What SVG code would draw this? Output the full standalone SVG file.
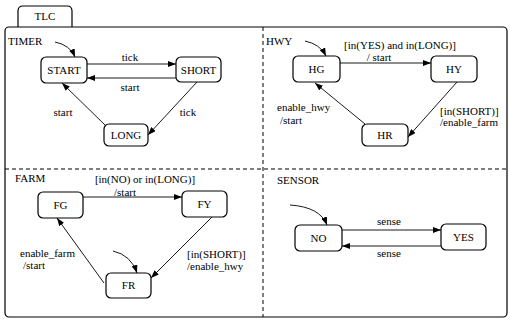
<svg xmlns="http://www.w3.org/2000/svg" width="510" height="320" viewBox="0 0 510 320" font-family="'Liberation Serif', 'DejaVu Serif', serif">
<defs>
<marker id="ah" markerUnits="userSpaceOnUse" markerWidth="8" markerHeight="6" refX="8" refY="3" orient="auto">
<path d="M0,0 L8,3 L0,6 z" fill="#000"/>
</marker>
<style>
.st{fill:#fff;stroke:#000;stroke-width:1.2}
text{font-family:'Liberation Serif','DejaVu Serif',serif;font-size:11px;fill:#000}
.m{text-anchor:middle}
.c{fill:none;stroke:#000;stroke-width:0.9;marker-end:url(#ah)}
.d{fill:none;stroke:#000;stroke-width:1;stroke-dasharray:4 3}
</style>
</defs>
<rect width="510" height="320" fill="#fff"/>
<g id="tlc">
<path d="M18,27 V11 Q18,6 23,6 H67 Q72,6 72,11 V27" fill="none" stroke="#000" stroke-width="1.2"/>
<text class="m" x="45" y="20">TLC</text>
<rect x="5" y="27" width="502" height="290" rx="4" fill="none" stroke="#000" stroke-width="1.2"/>
<line class="d" x1="263" y1="27" x2="263" y2="317"/>
<line class="d" x1="5" y1="169" x2="507" y2="169"/>
<text x="8" y="45">TIMER</text>
<text x="266" y="45">HWY</text>
<text x="15" y="182">FARM</text>
<text x="277" y="184">SENSOR</text>
</g>
<g id="START"><rect class="st" x="41" y="57" width="46" height="26" rx="5"/><text class="m" x="64" y="74">START</text></g>
<g id="SHORT"><rect class="st" x="176" y="57" width="45" height="25" rx="5"/><text class="m" x="198.5" y="73.5">SHORT</text></g>
<g id="LONG"><rect class="st" x="104" y="124" width="44" height="22" rx="5"/><text class="m" x="126" y="139">LONG</text></g>
<g id="HG"><rect class="st" x="293" y="56" width="47" height="26" rx="5"/><text class="m" x="316.5" y="73">HG</text></g>
<g id="HY"><rect class="st" x="431" y="56" width="46" height="26" rx="5"/><text class="m" x="454" y="73">HY</text></g>
<g id="HR"><rect class="st" x="362" y="124" width="46" height="22" rx="5"/><text class="m" x="385" y="139">HR</text></g>
<g id="FG"><rect class="st" x="38" y="192" width="45" height="26" rx="5"/><text class="m" x="60.5" y="209">FG</text></g>
<g id="FY"><rect class="st" x="182" y="191" width="45" height="26" rx="5"/><text class="m" x="204.5" y="208">FY</text></g>
<g id="FR"><rect class="st" x="106" y="273" width="45" height="25" rx="5"/><text class="m" x="128.5" y="289">FR</text></g>
<g id="NO"><rect class="st" x="295" y="225" width="47" height="26" rx="5"/><text class="m" x="318.5" y="242">NO</text></g>
<g id="YES"><rect class="st" x="441" y="224" width="45" height="26" rx="5"/><text class="m" x="463.5" y="241">YES</text></g>
<g id="connectors">
<path class="c" d="M55,42 Q70,45 75,57"/>
<line class="c" x1="87" y1="64" x2="176" y2="64"/>
<text class="m" x="130" y="61">tick</text>
<line class="c" x1="176" y1="78" x2="87" y2="78"/>
<text class="m" x="130" y="91">start</text>
<line class="c" x1="197" y1="82" x2="148" y2="135"/>
<text class="m" x="188" y="116">tick</text>
<line class="c" x1="106" y1="126" x2="62" y2="83"/>
<text class="m" x="63" y="116">start</text>

<path class="c" d="M305,41 Q320,44 326,56"/>
<line class="c" x1="340" y1="63" x2="431" y2="63"/>
<text class="m" x="400" y="49">[in(YES) and in(LONG)]</text>
<text class="m" x="379" y="61">/ start</text>
<line class="c" x1="457" y1="82" x2="408" y2="137"/>
<text x="440" y="115">[in(SHORT)]</text>
<text x="440" y="126">/enable_farm</text>
<line class="c" x1="365" y1="124" x2="315" y2="83"/>
<text x="277" y="111">enable_hwy</text>
<text x="280" y="124">/start</text>

<line class="c" x1="83" y1="197" x2="182" y2="197"/>
<text class="m" x="145" y="183">[in(NO) or in(LONG)]</text>
<text class="m" x="125" y="196">/start</text>
<line class="c" x1="212" y1="217" x2="151" y2="278"/>
<text x="187" y="258">[in(SHORT)]</text>
<text x="187" y="270">/enable_hwy</text>
<line class="c" x1="104" y1="283" x2="57" y2="218"/>
<text x="20" y="257">enable_farm</text>
<text x="23" y="269">/start</text>
<path class="c" d="M113,251 Q131,255 137,273"/>

<path class="c" d="M290,205 Q320,207 327,225"/>
<line class="c" x1="342" y1="230" x2="441" y2="230"/>
<text class="m" x="389" y="225">sense</text>
<line class="c" x1="441" y1="246" x2="342" y2="246"/>
<text class="m" x="389" y="257">sense</text>
</g>
</svg>
